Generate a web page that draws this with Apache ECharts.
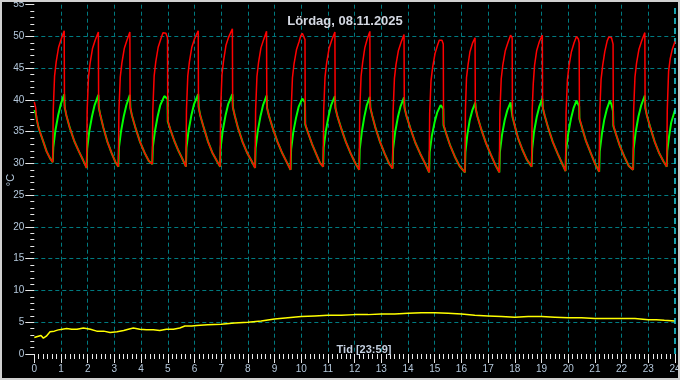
<!DOCTYPE html>
<html><head><meta charset="utf-8">
<script src="https://cdn.jsdelivr.net/npm/echarts@6/dist/echarts.min.js"></script>
<style>html,body{margin:0;padding:0;background:#000}#c{width:680px;height:380px}</style>
</head><body><div id="c"></div>
<script>
const chartTitle = 'Lördag, 08.11.2025';
const timeLabel = 'Tid [23:59]';
const yName = '°C';

// [hour, °C] readings — supply / flow temperature (red)
const redSeries = [
[0,39.7],[0.05,38.8],[0.09,37.0],[0.15,35.8],[0.21,35.0],[0.34,33.4],[0.46,31.9],[0.59,30.8],
[0.69,30.2],[0.71,38.4],[0.76,43.8],[0.82,46.0],[0.91,48.3],[1.01,49.6],[1.12,50.9],[1.13,39.2],[1.20,37.6],[1.33,35.6],[1.50,33.5],[1.67,31.9],[1.83,30.5],
[1.96,29.3],[1.98,38.3],[2.03,43.6],[2.09,45.8],[2.18,48.1],[2.28,49.4],[2.40,50.7],[2.41,39.0],[2.48,37.5],[2.59,35.6],[2.74,33.4],[2.89,31.7],[3.04,30.2],
[3.15,29.5],[3.17,38.3],[3.22,43.6],[3.28,45.8],[3.37,48.1],[3.47,49.4],[3.58,50.7],[3.59,39.0],[3.66,37.5],[3.79,35.6],[3.96,33.4],[4.13,31.7],[4.29,30.4],
[4.42,29.9],[4.44,38.4],[4.49,43.8],[4.55,46.0],[4.64,48.3],[4.74,49.6],[4.82,50.6],[4.87,50.9],[4.93,50.5],[4.99,49.8],[5.00,36.8],[5.10,35.3],[5.25,33.5],[5.40,32.0],[5.55,30.7],
[5.68,29.5],[5.70,38.4],[5.75,43.8],[5.81,46.0],[5.90,48.3],[6.00,49.6],[6.14,50.9],[6.15,39.0],[6.22,37.5],[6.35,35.6],[6.51,33.4],[6.67,31.7],[6.84,30.4],
[6.96,29.5],[6.98,38.6],[7.03,44.0],[7.09,46.2],[7.18,48.6],[7.28,49.9],[7.42,51.2],[7.43,39.0],[7.51,37.5],[7.63,35.6],[7.80,33.4],[7.97,31.7],[8.14,30.4],
[8.27,29.3],[8.29,38.3],[8.34,43.7],[8.40,45.9],[8.49,48.2],[8.59,49.5],[8.70,50.8],[8.71,39.0],[8.79,37.5],[8.93,35.6],[9.11,33.4],[9.29,31.6],[9.47,30.1],
[9.60,29.0],[9.62,38.2],[9.67,43.5],[9.73,45.7],[9.82,47.9],[9.92,49.2],[9.98,50.1],[10.04,50.5],[10.09,50.2],[10.14,49.5],[10.15,36.3],[10.25,34.9],[10.40,33.1],[10.55,31.6],[10.70,30.1],
[10.82,29.5],[10.84,38.3],[10.89,43.6],[10.95,45.8],[11.04,48.1],[11.14,49.4],[11.26,50.7],[11.27,39.0],[11.35,37.5],[11.49,35.6],[11.67,33.4],[11.85,31.6],[12.03,30.0],
[12.17,29.0],[12.19,38.3],[12.24,43.7],[12.30,45.9],[12.38,48.2],[12.47,49.6],[12.57,50.8],[12.58,39.0],[12.66,37.5],[12.78,35.6],[12.95,33.4],[13.12,31.6],[13.29,30.0],
[13.42,29.2],[13.44,38.1],[13.49,43.4],[13.55,45.6],[13.64,47.8],[13.74,49.1],[13.85,50.3],[13.86,39.0],[13.94,37.5],[14.09,35.5],[14.27,33.3],[14.46,31.5],[14.65,29.9],
[14.79,28.6],[14.81,37.9],[14.86,43.0],[14.92,45.1],[15.01,47.3],[15.11,48.7],[15.17,49.4],[15.22,49.7],[15.27,49.4],[15.32,48.8],[15.33,36.2],[15.43,34.7],[15.58,32.8],[15.75,31.1],[15.93,29.6],
[16.13,28.6],[16.15,38.5],[16.19,43.5],[16.25,45.6],[16.32,47.6],[16.42,49.0],[16.51,49.8],[16.52,39.0],[16.60,37.4],[16.74,35.4],[16.92,33.2],[17.10,31.4],[17.28,29.7],
[17.42,28.6],[17.44,38.0],[17.49,43.3],[17.55,45.5],[17.64,47.7],[17.74,49.0],[17.84,50.2],[17.90,49.8],[17.91,37.6],[18.00,35.9],[18.12,34.0],[18.28,32.2],[18.45,30.6],
[18.63,29.5],[18.65,38.4],[18.69,42.5],[18.74,45.5],[18.82,47.8],[18.92,49.2],[19.03,50.2],[19.04,39.0],[19.12,37.5],[19.25,35.6],[19.42,33.4],[19.60,31.6],[19.77,30.0],
[19.90,28.8],[19.92,38.0],[19.97,43.2],[20.03,45.4],[20.12,47.6],[20.22,49.0],[20.31,50.0],[20.38,49.6],[20.41,49.0],[20.42,37.2],[20.52,35.6],[20.66,33.6],[20.83,31.8],[21.00,30.0],
[21.16,28.7],[21.18,38.0],[21.23,43.2],[21.29,45.4],[21.37,47.6],[21.46,49.3],[21.52,49.9],[21.56,50.1],[21.62,49.8],[21.68,48.8],[21.69,36.1],[21.79,34.6],[21.94,32.7],[22.10,31.1],[22.27,29.6],
[22.43,29.0],[22.45,38.2],[22.50,43.6],[22.56,45.8],[22.65,48.0],[22.75,49.3],[22.87,50.6],[22.88,39.0],[22.95,37.5],[23.08,35.6],[23.24,33.4],[23.40,31.7],[23.57,30.3],
[23.69,29.5],[23.71,38.4],[23.76,44.5],[23.82,46.5],[23.90,48.0],[24.0,49.2]
];

// [hour, °C] readings — return temperature (green)
const greenSeries = [
[0,38.4],[0.05,38.0],[0.09,37.0],[0.15,35.8],[0.21,35.0],[0.34,33.4],[0.46,31.9],[0.59,30.8],
[0.69,30.2],[0.71,32.5],[0.79,35.2],[0.89,37.5],[0.99,39.3],[1.12,40.9],[1.14,38.8],[1.20,37.6],[1.33,35.6],[1.50,33.5],[1.67,31.9],[1.83,30.5],
[1.96,29.3],[1.98,32.3],[2.06,35.1],[2.16,37.4],[2.26,39.2],[2.40,40.8],[2.42,38.7],[2.48,37.5],[2.59,35.6],[2.74,33.4],[2.89,31.7],[3.04,30.2],
[3.15,29.5],[3.17,32.5],[3.25,35.1],[3.35,37.4],[3.45,39.2],[3.58,40.8],[3.60,38.7],[3.66,37.5],[3.79,35.6],[3.96,33.4],[4.13,31.7],[4.29,30.4],
[4.42,29.9],[4.44,32.6],[4.52,35.1],[4.62,37.4],[4.72,39.2],[4.87,40.6],[4.99,40.2],[5.00,36.6],[5.10,35.3],[5.25,33.5],[5.40,32.0],[5.55,30.7],
[5.68,29.5],[5.70,32.5],[5.78,35.2],[5.88,37.5],[5.98,39.3],[6.14,40.9],[6.16,38.8],[6.22,37.5],[6.35,35.6],[6.51,33.4],[6.67,31.7],[6.84,30.4],
[6.96,29.5],[6.98,32.5],[7.06,35.2],[7.16,37.5],[7.26,39.3],[7.42,40.9],[7.44,38.8],[7.51,37.5],[7.63,35.6],[7.80,33.4],[7.97,31.7],[8.14,30.4],
[8.27,29.3],[8.29,32.4],[8.37,35.1],[8.47,37.4],[8.57,39.2],[8.70,40.7],[8.72,38.7],[8.79,37.5],[8.93,35.6],[9.11,33.4],[9.29,31.6],[9.47,30.1],
[9.60,29.0],[9.62,32.2],[9.70,34.9],[9.80,37.1],[9.90,38.9],[10.04,40.2],[10.14,39.6],[10.15,36.1],[10.25,34.9],[10.40,33.1],[10.55,31.6],[10.70,30.1],
[10.82,29.5],[10.84,32.5],[10.92,35.1],[11.02,37.4],[11.12,39.2],[11.26,40.6],[11.28,38.7],[11.35,37.5],[11.49,35.6],[11.67,33.4],[11.85,31.6],[12.03,30.0],
[12.17,29.0],[12.19,32.2],[12.27,35.0],[12.36,37.3],[12.45,39.1],[12.57,40.5],[12.59,38.7],[12.66,37.5],[12.78,35.6],[12.95,33.4],[13.12,31.6],[13.29,30.0],
[13.42,29.2],[13.44,32.3],[13.52,35.0],[13.62,37.3],[13.72,39.0],[13.85,40.4],[13.87,38.7],[13.94,37.5],[14.09,35.5],[14.27,33.3],[14.46,31.5],[14.65,29.9],
[14.79,28.6],[14.81,31.8],[14.89,34.3],[14.99,36.4],[15.09,38.0],[15.22,39.2],[15.32,38.6],[15.33,36.0],[15.43,34.7],[15.58,32.8],[15.75,31.1],[15.93,29.6],
[16.13,28.6],[16.15,31.8],[16.22,34.5],[16.31,36.8],[16.41,38.4],[16.52,39.6],[16.54,38.5],[16.60,37.4],[16.74,35.4],[16.92,33.2],[17.10,31.4],[17.28,29.7],
[17.42,28.6],[17.44,31.8],[17.52,34.5],[17.62,36.8],[17.72,38.4],[17.84,39.6],[17.90,39.3],[17.91,37.4],[18.00,35.9],[18.12,34.0],[18.28,32.2],[18.45,30.6],
[18.63,29.5],[18.65,32.3],[18.72,35.0],[18.82,37.3],[18.92,39.0],[19.03,40.2],[19.05,38.7],[19.12,37.5],[19.25,35.6],[19.42,33.4],[19.60,31.6],[19.77,30.0],
[19.90,28.8],[19.92,32.0],[20.00,34.7],[20.10,37.0],[20.20,38.7],[20.31,39.9],[20.38,39.8],[20.41,39.0],[20.42,37.0],[20.52,35.6],[20.66,33.6],[20.83,31.8],[21.00,30.0],
[21.16,28.7],[21.18,31.9],[21.26,34.6],[21.35,36.9],[21.45,38.6],[21.56,39.9],[21.62,39.3],[21.68,38.2],[21.69,35.9],[21.79,34.6],[21.94,32.7],[22.10,31.1],[22.27,29.6],
[22.43,29.0],[22.45,32.3],[22.53,35.0],[22.63,37.4],[22.73,39.1],[22.87,40.7],[22.89,38.7],[22.95,37.5],[23.08,35.6],[23.24,33.4],[23.40,31.7],[23.57,30.3],
[23.69,29.5],[23.71,32.0],[23.78,34.3],[23.86,36.5],[23.94,37.6],[24.0,38.4]
];

// [hour, °C] readings — outdoor temperature (yellow)
const yellowSeries = [
[0,2.6],[0.15,2.8],[0.25,2.9],[0.34,2.5],[0.45,2.8],[0.59,3.5],[0.75,3.6],[0.9,3.8],[1.05,3.9],[1.21,4.0],
[1.4,3.9],[1.6,3.9],[1.84,4.1],[2.1,3.9],[2.34,3.6],[2.6,3.6],[2.84,3.4],[3.1,3.5],[3.35,3.7],[3.52,3.9],
[3.71,4.1],[3.95,3.9],[4.2,3.8],[4.46,3.8],[4.7,3.7],[4.95,3.9],[5.21,3.9],[5.45,4.1],[5.64,4.4],[5.9,4.4],
[6.08,4.5],[6.5,4.6],[7.0,4.7],[7.5,4.9],[8.0,5.0],[8.5,5.2],[9.0,5.5],[9.5,5.7],[10.0,5.9],[10.5,6.0],
[11.0,6.1],[11.5,6.1],[12.0,6.2],[12.5,6.2],[13.0,6.3],[13.5,6.3],[14.0,6.4],[14.5,6.5],[15.0,6.5],[15.5,6.4],
[16.0,6.3],[16.5,6.1],[17.0,6.0],[17.5,5.9],[18.0,5.8],[18.5,5.9],[19.0,5.9],[19.5,5.8],[20.0,5.7],[20.5,5.7],
[21.0,5.6],[21.5,5.6],[22.0,5.6],[22.5,5.6],[23.0,5.4],[23.3,5.4],[23.6,5.3],[24.0,5.2]
];

const labelColor = '#b4c8dc';
const gridColor = '#007a80';
const chart = echarts.init(document.getElementById('c'), null, {renderer: 'canvas'});
chart.setOption({
  backgroundColor: '#000',
  animation: false,
  title: [
    {text: chartTitle, left: 340, top: 10, textAlign: 'center',
     textStyle: {color: '#d4d8e2', fontSize: 13, fontWeight: 'bold', fontFamily: 'Liberation Sans, Arial, sans-serif'}},
    {text: timeLabel, left: 359, top: 339, textAlign: 'center',
     textStyle: {color: '#c4d0e0', fontSize: 11, fontWeight: 'bold', fontFamily: 'Liberation Sans, Arial, sans-serif'}}
  ],
  graphic: [
    {type: 'rect', shape: {x: 1, y: 1, width: 678, height: 378},
     style: {fill: 'none', stroke: '#d0d0d0', lineWidth: 2}, silent: true, z: 100},
    {type: 'text', x: 11, y: 180, rotation: Math.PI / 2, silent: true, z: 100,
     style: {text: yName, fill: labelColor, fontSize: 11, fontFamily: 'Liberation Sans, Arial, sans-serif',
             align: 'center', verticalAlign: 'middle'}}
  ],
  grid: {left: 34.3, right: 5, top: 4.7, bottom: 26, containLabel: false, outerBoundsMode: 'none'},
  xAxis: {
    type: 'value', min: 0, max: 24, interval: 1,
    axisLine: {show: false},
    axisTick: {show: true, length: 9, lineStyle: {color: '#e8e8e8', width: 1}},
    minorTick: {show: true, splitNumber: 6, length: 5, lineStyle: {color: '#e8e8e8', width: 1}},
    axisLabel: {color: labelColor, fontSize: 10, margin: 10, fontFamily: 'Liberation Sans, Arial, sans-serif'},
    splitLine: {show: true, showMinLine: false, showMaxLine: false, lineStyle: {color: gridColor, type: [4, 3], width: 1}}
  },
  yAxis: {
    type: 'value', min: 0, max: 55, interval: 5,
    axisLine: {show: false},
    axisTick: {show: true, length: 9, lineStyle: {color: '#e8e8e8', width: 1}},
    minorTick: {show: true, splitNumber: 5, length: 4, lineStyle: {color: '#e8e8e8', width: 1}},
    axisLabel: {color: labelColor, fontSize: 10, margin: 10, fontFamily: 'Liberation Sans, Arial, sans-serif'},
    splitLine: {show: true, showMinLine: false, showMaxLine: false, lineStyle: {color: gridColor, type: [4, 3], width: 1}}
  },
  series: [
    {type: 'line', data: yellowSeries, showSymbol: false, lineStyle: {color: '#ffff00', width: 1.5}, z: 3,
     markLine: {silent: true, symbol: 'none', label: {show: false},
       lineStyle: {color: '#20d8e8', type: [6, 4], width: 1.5}, data: [{xAxis: 24}]}},
    {type: 'line', data: greenSeries, showSymbol: false, lineStyle: {color: '#00ff00', width: 2}, z: 4},
    {type: 'line', data: redSeries, showSymbol: false, lineStyle: {color: '#ff0000', width: 1.5}, z: 5}
  ]
});
</script></body></html>
